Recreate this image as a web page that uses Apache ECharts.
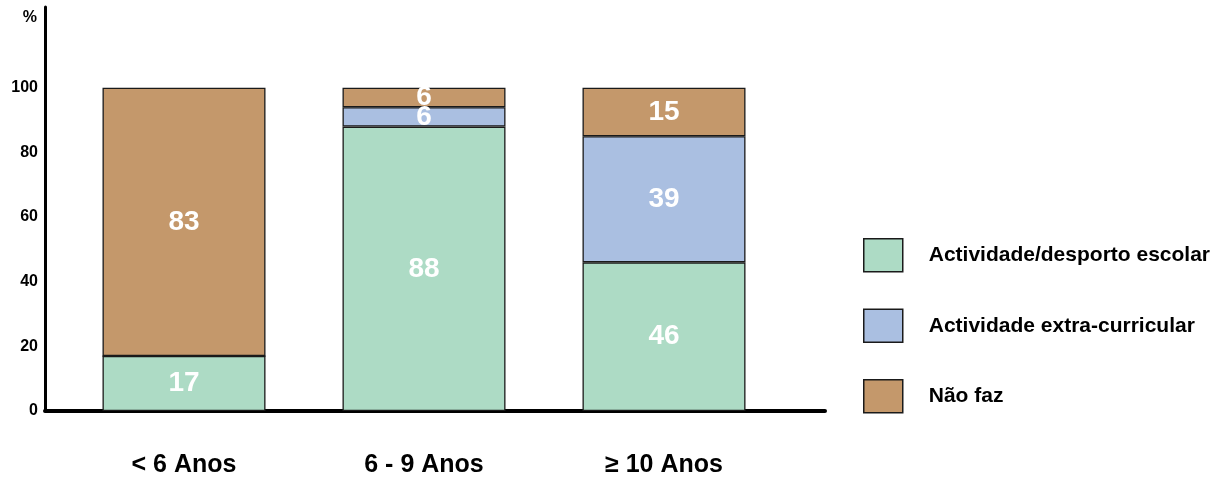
<!DOCTYPE html>
<html>
<head>
<meta charset="utf-8">
<script src="https://cdn.jsdelivr.net/npm/echarts@6/dist/echarts.min.js"></script>
<style>
  html, body { margin: 0; padding: 0; background: #ffffff; }
  #chart { width: 1229px; height: 481px; }
</style>
</head>
<body>
<div id="chart"></div>
<script>
// Age groups along the horizontal axis
const categories = ['< 6 Anos', '6 - 9 Anos', '\u2265 10 Anos'];
// Share of children (%) per activity type
const escolar = [17, 88, 46];
const extraCurricular = [0, 6, 39];
const naoFaz = [83, 6, 15];
const seriesNames = ['Actividade/desporto escolar', 'Actividade extra-curricular', 'Não faz'];
const yTicks = [0, 20, 40, 60, 80, 100];

const colors = ['#addbc5', '#aabfe1', '#c4986b'];
const font = 'Liberation Sans, Arial, sans-serif';
const Y_MAX = 125;

const chart = echarts.init(document.getElementById('chart'), null, { renderer: 'canvas' });

const makeSeries = (name, values, color) => ({
  name: name,
  type: 'bar',
  stack: 'total',
  xAxisIndex: 0,
  yAxisIndex: 0,
  barWidth: 163,
  data: values,
  itemStyle: { color: color, borderColor: '#1a1a1a', borderWidth: 1.3 },
  label: {
    show: true,
    position: 'inside',
    color: '#ffffff',
    fontFamily: font,
    fontWeight: 'bold',
    fontSize: 28,
    formatter: p => (p.value > 0 ? String(p.value) : '')
  },
  emphasis: { disabled: true }
});

chart.setOption({
  animation: false,
  backgroundColor: '#ffffff',
  grid: [
    // plotting area for the bars
    { left: 64, width: 720, top: 7, bottom: 70, containLabel: false },
    // frame carrying the visible axes
    { left: 45, right: 404, top: 7, bottom: 70, containLabel: false }
  ],
  xAxis: [
    {
      gridIndex: 0,
      type: 'category',
      data: categories,
      axisLine: { show: false },
      axisTick: { show: false },
      axisLabel: {
        color: '#000000',
        fontFamily: font,
        fontWeight: 'bold',
        fontSize: 25,
        margin: 42
      }
    },
    {
      gridIndex: 1,
      type: 'value',
      min: 0,
      max: 1,
      splitLine: { show: false },
      axisTick: { show: false },
      axisLabel: { show: false },
      axisLine: { show: true, onZero: false, lineStyle: { color: '#000000', width: 4 } }
    }
  ],
  yAxis: [
    {
      gridIndex: 0,
      type: 'value',
      min: 0,
      max: Y_MAX,
      show: false
    },
    {
      gridIndex: 1,
      type: 'value',
      min: 0,
      max: Y_MAX,
      name: '%',
      nameLocation: 'end',
      nameGap: -19,
      nameTextStyle: {
        color: '#000000',
        fontFamily: font,
        fontWeight: 'bold',
        fontSize: 16,
        align: 'right',
        padding: [0, 8, 0, 0]
      },
      splitLine: { show: false },
      axisTick: { show: false },
      axisLine: { show: true, onZero: false, lineStyle: { color: '#000000', width: 3 } },
      axisLabel: {
        customValues: yTicks,
        color: '#000000',
        fontFamily: font,
        fontWeight: 'bold',
        fontSize: 16,
        margin: 7,
        padding: [0, 0, 11, 0]
      }
    }
  ],
  legend: {
    orient: 'vertical',
    left: 863,
    top: 238,
    padding: 0,
    itemWidth: 39,
    itemHeight: 33,
    itemGap: 36,
    icon: 'rect',
    selectedMode: false,
    itemStyle: { borderColor: '#1a1a1a', borderWidth: 1.5 },
    textStyle: {
      color: '#000000',
      fontFamily: font,
      fontWeight: 'bold',
      fontSize: 21,
      padding: [0, 0, 0, 21]
    },
    data: seriesNames
  },
  series: [
    makeSeries(seriesNames[0], escolar, colors[0]),
    makeSeries(seriesNames[1], extraCurricular, colors[1]),
    makeSeries(seriesNames[2], naoFaz, colors[2])
  ]
});
</script>
</body>
</html>
